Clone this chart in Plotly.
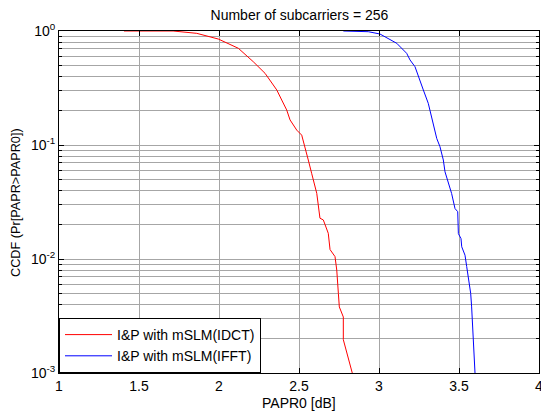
import plotly.graph_objects as go

# Red curve: I&P with mSLM(IDCT)
idct_x = [1.406, 1.713, 1.861, 1.996, 2.121, 2.214, 2.288, 2.361, 2.392, 2.423, 2.444,
          2.486, 2.517, 2.538, 2.558, 2.579, 2.611, 2.631, 2.652, 2.683, 2.694, 2.725,
          2.736, 2.746, 2.752, 2.777, 2.777, 2.833]
idct_y = [1.0, 1.0, 0.954, 0.85, 0.705, 0.538, 0.425, 0.304, 0.248, 0.203, 0.166,
          0.135, 0.122, 0.0967, 0.0739, 0.0565, 0.0377, 0.0228, 0.0220, 0.0168, 0.0121, 0.0105,
          0.0080, 0.0050, 0.0038, 0.0031, 0.00196, 0.00100]

# Blue curve: I&P with mSLM(IFFT)
ifft_x = [2.777, 2.933, 3.006, 3.111, 3.173, 3.194, 3.225, 3.246, 3.277, 3.308, 3.329,
          3.350, 3.361, 3.381, 3.392, 3.402, 3.4125, 3.433, 3.454, 3.475, 3.492, 3.496,
          3.5125, 3.517, 3.5375, 3.548, 3.573, 3.579, 3.589, 3.600]
ifft_y = [1.0, 0.986, 0.941, 0.780, 0.637, 0.557, 0.486, 0.397, 0.304, 0.232, 0.177,
          0.135, 0.114, 0.0967, 0.0817, 0.0739, 0.0582, 0.0459, 0.0375, 0.0277, 0.0260, 0.0167,
          0.0151, 0.0128, 0.0108, 0.0086, 0.0050, 0.0038, 0.0020, 0.00100]

x_ticks = [1, 1.5, 2, 2.5, 3, 3.5, 4]
x_ticktext = ["1", "1.5", "2", "2.5", "3", "3.5", "4"]
y_ticks = [1, 0.1, 0.01, 0.001]
y_ticktext = ["10<sup>0</sup>", "10<sup>-1</sup>", "10<sup>-2</sup>", "10<sup>-3</sup>"]
y_minor = [m * 10.0 ** e for e in (-3, -2, -1) for m in range(2, 10)]

title_text = "Number of subcarriers = 256"
x_title = "PAPR0 [dB]"
y_title = "CCDF (Pr[PAPR>PAPR0])"

font_family = "Liberation Sans, Arial, sans-serif"
grid_col = "#a6a6a6"

fig = go.Figure()
fig.add_trace(go.Scatter(x=idct_x, y=idct_y, mode="lines", name="I&P with mSLM(IDCT)",
                         line=dict(color="#ff0000", width=1)))
fig.add_trace(go.Scatter(x=ifft_x, y=ifft_y, mode="lines", name="I&P with mSLM(IFFT)",
                         line=dict(color="#0000ff", width=1)))

fig.update_layout(
    width=541, height=414,
    margin=dict(l=59, r=2, t=31, b=41),
    paper_bgcolor="white", plot_bgcolor="white",
    font=dict(family=font_family, size=14, color="black"),
    title=dict(text=title_text, x=0.5535, xanchor="center",
               y=0.964, yanchor="middle", font=dict(size=14)),
    showlegend=True,
    legend=dict(x=0, y=0, xanchor="left", yanchor="bottom", bgcolor="white",
                bordercolor="black", borderwidth=1, font=dict(size=14),
                tracegroupgap=0, itemwidth=47),
    annotations=[
        dict(text=x_title, xref="paper", yref="paper", x=0.5, y=-0.0877,
             xanchor="center", yanchor="middle", showarrow=False, font=dict(size=14)),
        dict(text=y_title, xref="paper", yref="paper", x=-0.0896, y=0.5,
             xanchor="center", yanchor="middle", textangle=-90, showarrow=False,
             font=dict(size=12.7)),
    ],
)
fig.update_xaxes(
    range=[1, 4], tickvals=x_ticks, ticktext=x_ticktext, automargin=False,
    showline=True, linecolor="black", linewidth=1, mirror="ticks",
    ticks="inside", ticklen=5, tickcolor="black", tickfont=dict(size=14),
    ticklabeloverflow="allow",
    showgrid=True, gridcolor=grid_col, gridwidth=1,
    zeroline=False,
)
fig.update_yaxes(
    type="log", range=[-3, 0], tickvals=y_ticks, ticktext=y_ticktext, automargin=False,
    showline=True, linecolor="black", linewidth=1, mirror="ticks",
    ticks="inside", ticklen=5, tickcolor="black", tickfont=dict(size=14),
    showgrid=True, gridcolor=grid_col, gridwidth=1,
    minor=dict(tickvals=y_minor, showgrid=True, gridcolor=grid_col,
               ticks="inside", ticklen=3, tickcolor="black"),
    zeroline=False,
)

fig.write_html("out.html", config={"displayModeBar": False},
               post_script="document.body.style.margin='0px';")
